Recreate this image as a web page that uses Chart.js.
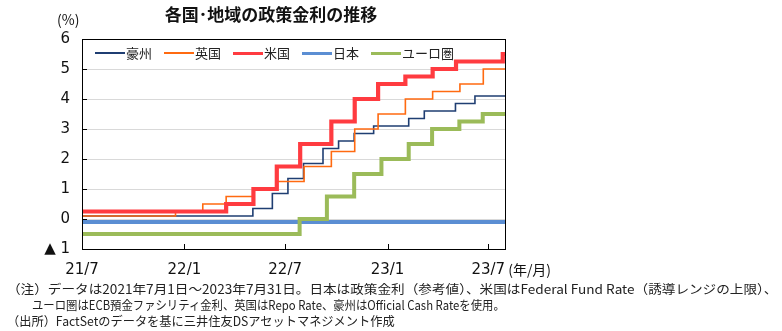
<!DOCTYPE html>
<html lang="ja">
<head>
<meta charset="utf-8">
<title>各国･地域の政策金利の推移</title>
<script src="https://cdn.jsdelivr.net/npm/chart.js@4.4.0/dist/chart.umd.min.js"></script>
<style>
  html, body { margin: 0; padding: 0; background: #fff; }
  #wrap { position: relative; width: 782px; height: 331px; overflow: hidden;
          font-family: "Noto Sans CJK JP", "Noto Sans", sans-serif; color: #111; }
  #c { position: absolute; left: 0; top: 0; }
  #title { position: absolute; left: 0; width: 542px; top: 3px; text-align: center;
           font-weight: bold; font-size: 17px; line-height: 22px; }
  #legend { position: absolute; left: 95px; top: 44px; display: flex; align-items: center;
            font-size: 13px; line-height: 18px; color: #222; }
  #legend .item { display: flex; align-items: center; margin-right: 12px; }
  #legend .swatch { display: inline-block; width: 30px; }
  #legend .label { padding-left: 1px; }
  .note { position: absolute; white-space: nowrap; font-size: 12.5px; line-height: 16px;
          transform-origin: 0 50%; color: #222; }
</style>
</head>
<body>
<div id="wrap">
  <canvas id="c" width="782" height="331"></canvas>
  <div id="title">各国･地域の政策金利の推移</div>
  <div id="legend"></div>
  <div class="note" id="n1" data-w="771" style="left:7px;top:281px">（注）データは2021年7月1日～2023年7月31日。日本は政策金利（参考値）、米国はFederal Fund Rate（誘導レンジの上限）、</div>
  <div class="note" id="n2" data-w="473" style="left:32px;top:297px">ユーロ圏はECB預金ファシリティ金利、英国はRepo Rate、豪州はOfficial Cash Rateを使用。</div>
  <div class="note" id="n3" data-w="388" style="left:7px;top:313px">（出所）FactSetのデータを基に三井住友DSアセットマネジメント作成</div>
</div>
<script>
// 期間とラベル
const startDate = '2021-07-01';
const endDate = '2023-07-31';
const xTickDates = ['2021-07-01', '2022-01-01', '2022-07-01', '2023-01-01', '2023-07-01'];
const xTickLabels = ['21/7', '22/1', '22/7', '23/1', '23/7'];
const yTickValues = [6, 5, 4, 3, 2, 1, 0, -1];
const yTickLabels = ['6', '5', '4', '3', '2', '1', '0', '▲ 1'];

// 政策金利の変更日と変更後の水準（%）
const ausDates = ['2021-07-01', '2022-05-04', '2022-06-08', '2022-07-06', '2022-08-03', '2022-09-07',
                  '2022-10-05', '2022-11-02', '2022-12-07', '2023-02-08', '2023-03-08', '2023-05-03', '2023-06-07'];
const ausRates = [0.10, 0.35, 0.85, 1.35, 1.85, 2.35, 2.60, 2.85, 3.10, 3.35, 3.60, 3.85, 4.10];

const ukDates = ['2021-07-01', '2021-12-16', '2022-02-03', '2022-03-17', '2022-05-05', '2022-06-16', '2022-08-04',
                 '2022-09-22', '2022-11-03', '2022-12-15', '2023-02-02', '2023-03-23', '2023-05-11', '2023-06-22'];
const ukRates = [0.10, 0.25, 0.50, 0.75, 1.00, 1.25, 1.75, 2.25, 3.00, 3.50, 4.00, 4.25, 4.50, 5.00];

const usDates = ['2021-07-01', '2022-03-17', '2022-05-05', '2022-06-16', '2022-07-28', '2022-09-22',
                 '2022-11-03', '2022-12-15', '2023-02-02', '2023-03-23', '2023-05-04', '2023-07-27'];
const usRates = [0.25, 0.50, 1.00, 1.75, 2.50, 3.25, 4.00, 4.50, 4.75, 5.00, 5.25, 5.50];

const jpDates = ['2021-07-01'];
const jpRates = [-0.10];

const euDates = ['2021-07-01', '2022-07-27', '2022-09-14', '2022-11-02', '2022-12-21',
                 '2023-02-08', '2023-03-22', '2023-05-10', '2023-06-21'];
const euRates = [-0.50, 0.00, 0.75, 1.50, 2.00, 2.50, 3.00, 3.25, 3.50];

function dayOf(d) {
    return (Date.parse(d) - Date.parse(startDate)) / 86400000;
}

// 変更点を並べ、最終日まで最後の水準を延ばす
function steps(dates, rates) {
    var pts = dates.map((d, i) => ({ x: dayOf(d), y: rates[i] }));
    pts.push({ x: dayOf(endDate), y: rates[rates.length - 1] });
    return pts;
}

const series = [
    { label: '豪州', data: steps(ausDates, ausRates), color: '#1f3e72', width: 1.6, order: 2 },
    { label: '英国', data: steps(ukDates, ukRates), color: '#ff6a10', width: 1.6, order: 1 },
    { label: '米国', data: steps(usDates, usRates), color: '#ff3b40', width: 4.2, order: 0 },
    { label: '日本', data: steps(jpDates, jpRates), color: '#5b8ed3', width: 4, order: 4 },
    { label: 'ユーロ圏', data: steps(euDates, euRates), color: '#9bbb59', width: 4, order: 3 }
];

// 目盛り・枠線・軸ラベル
const axisDecor = {
    id: 'axisDecor',
    afterDatasetsDraw(chart) {
        const { ctx, chartArea: a, scales: { x, y } } = chart;
        ctx.save();
        ctx.strokeStyle = '#000';
        ctx.lineWidth = 1;
        ctx.strokeRect(a.left + 0.5, a.top + 0.5, a.right - a.left, a.bottom - a.top);
        ctx.beginPath();
        yTickValues.forEach(v => {
            const py = Math.round(y.getPixelForValue(v)) + 0.5;
            ctx.moveTo(a.left, py);
            ctx.lineTo(a.left + 5, py);
        });
        xTickDates.forEach(d => {
            const px = Math.round(x.getPixelForValue(dayOf(d))) + 0.5;
            ctx.moveTo(px, a.bottom);
            ctx.lineTo(px, a.bottom - 5);
        });
        ctx.stroke();

        ctx.fillStyle = '#111';
        ctx.font = '15px "DejaVu Sans", sans-serif';
        ctx.textBaseline = 'middle';
        ctx.textAlign = 'right';
        yTickValues.forEach((v, i) => {
            ctx.fillText(yTickLabels[i], 70, y.getPixelForValue(v));
        });
        ctx.textAlign = 'center';
        xTickDates.forEach((d, i) => {
            ctx.fillText(xTickLabels[i], x.getPixelForValue(dayOf(d)), 270);
        });
        const last = xTickDates.length - 1;
        const lastX = x.getPixelForValue(dayOf(xTickDates[last])) + ctx.measureText(xTickLabels[last]).width / 2;
        ctx.textAlign = 'left';
        ctx.font = '14px "Noto Sans CJK JP", sans-serif';
        ctx.fillText('(年/月)', lastX + 3, 270);
        ctx.fillText('(%)', 57, 20);
        ctx.restore();
    }
};

const chart = new Chart(document.getElementById('c'), {
    type: 'line',
    data: {
        datasets: series.map(s => ({
            label: s.label,
            data: s.data,
            borderColor: s.color,
            backgroundColor: s.color,
            borderWidth: s.width,
            stepped: 'before',
            pointRadius: 0,
            fill: false,
            order: s.order
        }))
    },
    options: {
        responsive: false,
        animation: false,
        devicePixelRatio: 1,
        layout: { padding: { left: 82, top: 39, right: 277, bottom: 82 } },
        plugins: { legend: { display: false }, tooltip: { enabled: false }, title: { display: false } },
        scales: {
            x: {
                type: 'linear',
                min: 0,
                max: dayOf(endDate),
                ticks: { display: false },
                grid: { display: false, drawTicks: false },
                border: { display: false }
            },
            y: {
                min: -1,
                max: 6,
                afterBuildTicks: scale => { scale.ticks = yTickValues.map(v => ({ value: v })); },
                ticks: { display: false },
                grid: {
                    drawTicks: false,
                    color: ctx => (ctx.tick && ctx.tick.value > -1 && ctx.tick.value < 6) ? '#d9d9d9' : 'rgba(0,0,0,0)',
                    lineWidth: 1
                },
                border: { display: false }
            }
        }
    },
    plugins: [axisDecor]
});

// 凡例
const legend = document.getElementById('legend');
series.forEach(s => {
    const item = document.createElement('div');
    item.className = 'item';
    const sw = document.createElement('span');
    sw.className = 'swatch';
    sw.style.height = Math.max(2, Math.round(s.width * 0.8)) + 'px';
    sw.style.background = s.color;
    const lb = document.createElement('span');
    lb.className = 'label';
    lb.textContent = s.label;
    item.appendChild(sw);
    item.appendChild(lb);
    legend.appendChild(item);
});

// 注記の横幅をそろえる
document.querySelectorAll('.note').forEach(el => {
    const w = el.scrollWidth;
    const target = +el.dataset.w;
    el.style.transform = 'scaleX(' + (target / w) + ')';
});
</script>
</body>
</html>
